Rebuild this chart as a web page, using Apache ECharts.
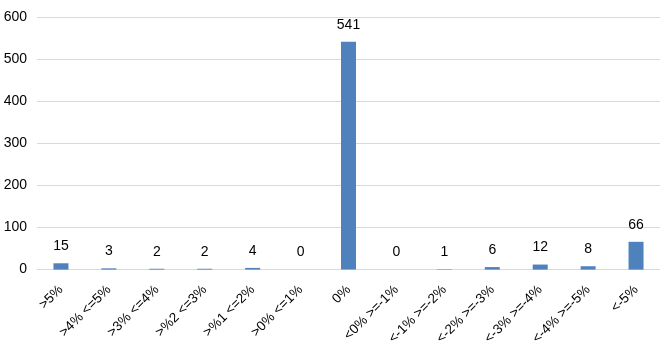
<!DOCTYPE html>
<html><head><meta charset="utf-8">
<script src="https://cdn.jsdelivr.net/npm/echarts@6/dist/echarts.min.js"></script>
<style>html,body{margin:0;padding:0;background:#fff}#c{width:660px;height:348px}</style>
</head><body><div id="c"></div>
<script>
const categories = [">5%", ">4% <=5%", ">3% <=4%", ">%2 <=3%", ">%1 <=2%", ">0% <=1%", "0%", "<0% >=-1%", "<-1% >=-2%", "<-2% >=-3%", "<-3% >=-4%", "<-4% >=-5%", "<-5%"];
const values = [15, 3, 2, 2, 4, 0, 541, 0, 1, 6, 12, 8, 66];
const yTicks = [0, 100, 200, 300, 400, 500, 600];

const chart = echarts.init(document.getElementById('c'), null, {renderer: 'canvas'});
chart.setOption({
  animation: false,
  grid: {left: 37, right: -3, top: 17, bottom: 78, containLabel: false},
  xAxis: {
    type: 'category', data: categories,
    axisLine: {lineStyle: {color: '#d9d9d9'}},
    axisTick: {show: false},
    axisLabel: {rotate: 45, interval: 0, margin: 18, color: '#000', fontSize: 13.5, fontFamily: 'Liberation Sans'}
  },
  yAxis: {
    type: 'value', min: yTicks[0], max: yTicks[yTicks.length-1], interval: 100,
    axisLine: {show: false}, axisTick: {show: false},
    splitLine: {lineStyle: {color: '#d9d9d9'}},
    axisLabel: {color: '#000', fontSize: 14, margin: 10, fontFamily: 'Liberation Sans'}
  },
  series: [{
    type: 'bar', data: values, barWidth: 15,
    itemStyle: {color: '#4f81bd'},
    label: {show: true, position: 'top', distance: 10, color: '#000', fontSize: 14, fontFamily: 'Liberation Sans'}
  }]
});
</script></body></html>
